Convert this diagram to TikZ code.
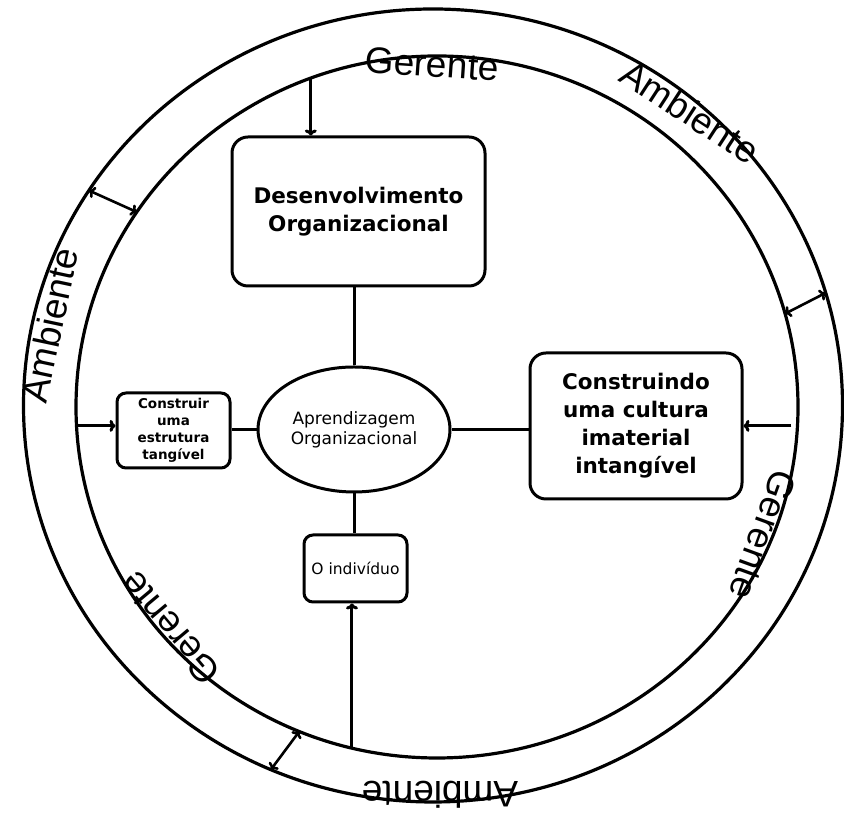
\documentclass[tikz,border=0pt]{standalone}
\usepackage{fontspec}
\setmainfont{DejaVu Sans}
\newfontfamily\maofont{Liberation Sans}
\usetikzlibrary{shapes.geometric,arrows.meta}

\tikzset{
  caixa/.style={draw, rounded corners=16pt, line width=3pt, align=center,
    font=\bfseries\fontsize{21.5}{28}\selectfont},
  caixinha/.style={draw, rounded corners=9pt, line width=3pt, align=center},
  rotulo/.style={font=\maofont\fontsize{37}{37}\selectfont},
}

\begin{document}
\begin{tikzpicture}[x=1pt, y=1pt, line width=3pt, >={To[length=6pt, width=12pt]}]
    \useasboundingbox (0,0) rectangle (844,818);

    \node[draw, ellipse, outer sep=0pt, line width=3.2pt, minimum width=819pt, minimum height=793pt] (ambiente) at (433,412.5) {};
    \node[draw, ellipse, outer sep=0pt, line width=3.2pt, minimum width=722pt, minimum height=702pt] (gerente)  at (437,411) {};

    \node[draw, ellipse, minimum width=192pt, minimum height=125pt, align=center,
      font=\fontsize{17}{20}\selectfont] (aprend) at (354,388.5) {Aprendizagem\\Organizacional};

    \node[caixa, node distance=218pt, above of=aprend, xshift=4.5pt,
      minimum width=253pt, minimum height=149pt] (desenv) {Desenvolvimento\\Organizacional};
    \node[caixa, node distance=282pt, right of=aprend, yshift=3.5pt,
      minimum width=212pt, minimum height=146pt] (cultura) {Construindo\\uma cultura\\imaterial\\intangível};
    \node[caixinha, node distance=180.5pt, left of=aprend, yshift=-1pt,
      minimum width=113pt, minimum height=75pt, font=\bfseries\fontsize{13.5}{17}\selectfont] (construir) {Construir\\uma\\estrutura\\tangível};
    \node[caixinha, node distance=139pt, below of=aprend, xshift=1.5pt,
      minimum width=103pt, minimum height=67pt, font=\fontsize{15.5}{18}\selectfont] (indiv) {O indivíduo};

    \draw (aprend.north) -- (aprend.north |- desenv.south);
    \draw (aprend.west)  -- (aprend.west -| construir.east);
    \draw (aprend.east)  -- (aprend.east -| cultura.west);
    \draw (aprend.south) -- (aprend.south |- indiv.north);

    \draw[->] (gerente.111)  -- (gerente.111 |- desenv.north);
    \draw[->] (gerente.183)  -- (gerente.183 -| construir.west);
    \draw[->, shorten <=6pt] (gerente.-3) -- (gerente.-3 -| cultura.east);
    \draw[->] (gerente.-104) -- (gerente.-104 |- indiv.south);

    \draw[<->, line width=2.6pt] (ambiente.148) -- (gerente.147);
    \draw[<->, line width=2.6pt] (ambiente.16)  -- (gerente.15);
    \draw[<->, line width=2.6pt] (ambiente.246) -- (gerente.247);

    \node[rotulo, rotate=-4]   (g1) at (432,754) {Gerente};
    \node[rotulo, rotate=-33]  (a1) at (690,706) {Ambiente};
    \node[rotulo, rotate=78]   (a2) at (50,493)  {Ambiente};
    \node[rotulo, rotate=-110] (g2) at (763,283) {Gerente};
    \node[rotulo, rotate=130]  (g3) at (170,190) {Gerente};
    \node[rotulo, rotate=180]  (a3) at (440,23)  {Ambiente};
\end{tikzpicture}
\end{document}
